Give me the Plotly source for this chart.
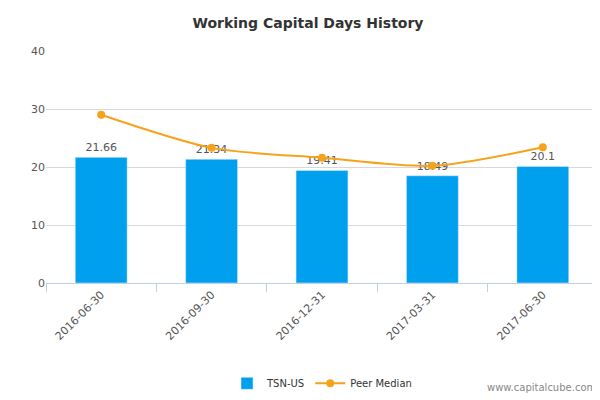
import plotly.graph_objects as go

dates = ["2016-06-30", "2016-09-30", "2016-12-31", "2017-03-31", "2017-06-30"]
tsn_values = [21.66, 21.34, 19.41, 18.49, 20.1]
peer_median = [29.0, 23.3, 21.6, 20.2, 23.4]

fig = go.Figure()
fig.add_trace(go.Bar(
    x=dates, y=tsn_values, name="TSN-US",
    marker_color="#00a0ef", width=0.47,
    text=[str(v) for v in tsn_values], textposition="outside",
    textfont=dict(size=11, color="#555555"), cliponaxis=False,
))
fig.add_trace(go.Scatter(
    x=dates, y=peer_median, name="Peer Median", mode="lines+markers",
    line=dict(color="#f7a21b", width=2, shape="spline", smoothing=0.8),
    marker=dict(size=8, color="#f7a21b"),
))

fig.update_layout(
    width=600, height=400,
    title=dict(text="<b>Working Capital Days History</b>", x=0.5, y=0.975,
               font=dict(size=14, color="#333333")),
    font=dict(family="DejaVu Sans", color="#555555", size=11),
    plot_bgcolor="white", paper_bgcolor="white",
    margin=dict(l=38, r=10, t=43, b=113),
    legend=dict(orientation="h", x=0.5, xanchor="center", y=-0.37, yanchor="top",
                font=dict(size=10, color="#333333")),
    xaxis=dict(type="category", tickangle=-45, showline=True, linecolor="#c0d0e0",
               ticks="outside", tickson="boundaries", tickcolor="#c0d0e0",
               ticklen=8, showgrid=False),
    yaxis=dict(range=[0, 40], dtick=10, gridcolor="#d8d8d8", zeroline=False,
               ticks="", tickfont=dict(size=11)),
    showlegend=True,
)
fig.add_annotation(text="www.capitalcube.com", xref="paper", yref="paper",
                   x=1.0, y=-0.42, xanchor="right", yanchor="top", showarrow=False,
                   font=dict(size=10, color="#888888"))

fig.write_html("out.html")
